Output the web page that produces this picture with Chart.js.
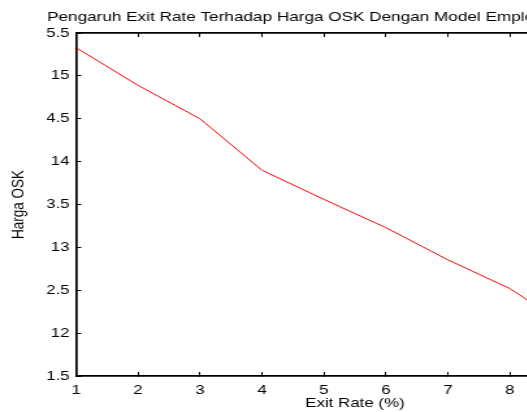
<!DOCTYPE html>
<html>
<head>
<meta charset="utf-8">
<script src="https://cdn.jsdelivr.net/npm/chart.js@4"></script>
<style>
  html, body { margin: 0; padding: 0; overflow: hidden; background: #fff; }
  /* the source figure is stretched sideways, so stretch the whole canvas the same way */
  #wrap { width: 700px; height: 412px; transform: scaleX(1.3); transform-origin: 0 0; }
  #oskChart { display: block; }
</style>
</head>
<body>
<div id="wrap"><canvas id="oskChart" width="700" height="412"></canvas></div>
<script>
// values (x = exit rate in %)
const exitRate = [1, 2, 3, 4, 5, 6, 7, 8, 9, 10];
const hargaOSK = [15.33, 14.89, 14.50, 13.90, 13.56, 13.23, 12.855, 12.52, 12.05, 11.70];
const xTicks = [1, 2, 3, 4, 5, 6, 7, 8, 9, 10];
const yTicks = [11.5, 12, 12.5, 13, 13.5, 14, 14.5, 15, 15.5];
const titleText = 'Pengaruh Exit Rate Terhadap Harga OSK Dengan Model Employee Stock Option';

const fontFamily = '"Liberation Sans", Arial, Helvetica, sans-serif';
const tickFont = {family: fontFamily, size: 13};
const titleFont = {family: fontFamily, size: 13.2, weight: 'normal'};

// canvas px before the sideways stretch; the figure is cut off on the right
const canvasWidth = 700;
const titleLeft = 36.2;
const plotLeft = 58.5;
const plotRight = 487.5;

function setTicks(list) {
  return (scale) => {
    scale.ticks = list.map(v => ({value: v}));
  };
}

// matlab style box: black border, short ticks pointing inwards
function boxGrid() {
  return {drawOnChartArea: false, tickLength: -4, tickColor: '#000', tickWidth: 1};
}

let points = [];
for(let i = 0; i < exitRate.length; i++) {
  points.push({x: exitRate[i], y: hargaOSK[i]});
}

const config = {
  type: 'scatter',
  data: {
    datasets: [{
      data: points,
      showLine: true,
      borderColor: '#ff0000',
      borderWidth: 1,
      pointRadius: 0,
      tension: 0
    }]
  },
  options: {
    responsive: false,
    devicePixelRatio: 1,
    animation: false,
    layout: {padding: {left: titleLeft, right: 0, top: 0, bottom: 0}},
    plugins: {
      legend: {display: false},
      tooltip: {enabled: false},
      title: {
        display: true,
        align: 'start',
        text: titleText,
        color: '#000',
        font: titleFont,
        padding: {top: 9.9, bottom: 7.3}
      }
    },
    scales: {
      x: {
        type: 'linear',
        position: 'bottom',
        min: 1,
        max: 10,
        afterBuildTicks: setTicks(xTicks),
        afterFit: (scale) => { scale.height = 36; },
        ticks: {color: '#000', font: tickFont, padding: 11, maxRotation: 0, callback: v => String(v)},
        grid: boxGrid(),
        border: {color: '#000', width: 1.7},
        title: {display: true, text: 'Exit Rate (%)', color: '#000', font: tickFont, padding: {top: 0, bottom: 1}}
      },
      x2: {
        type: 'linear',
        position: 'top',
        min: 1,
        max: 10,
        afterBuildTicks: setTicks(xTicks),
        afterFit: (scale) => { scale.height = 0; },
        ticks: {display: false},
        grid: boxGrid(),
        border: {color: '#000', width: 1.7}
      },
      y: {
        type: 'linear',
        position: 'left',
        min: 11.5,
        max: 15.5,
        afterBuildTicks: setTicks(yTicks),
        afterFit: (scale) => { scale.width = plotLeft - titleLeft; },
        ticks: {color: '#000', font: tickFont, padding: 9, callback: v => String(v)},
        grid: boxGrid(),
        border: {color: '#000', width: 1.7},
        // label sits left of the layout padding, so pull it back out
        title: {display: true, text: 'Harga OSK', color: '#000', font: {family: fontFamily, size: 13.5}, padding: {top: 6.5 - titleLeft, bottom: 0}}
      },
      y2: {
        type: 'linear',
        position: 'right',
        min: 11.5,
        max: 15.5,
        afterBuildTicks: setTicks(yTicks),
        afterFit: (scale) => { scale.width = canvasWidth - plotRight; },
        ticks: {display: false},
        grid: boxGrid(),
        border: {color: '#000', width: 1.7}
      }
    }
  }
};

new Chart(document.getElementById('oskChart'), config);
</script>
</body>
</html>
